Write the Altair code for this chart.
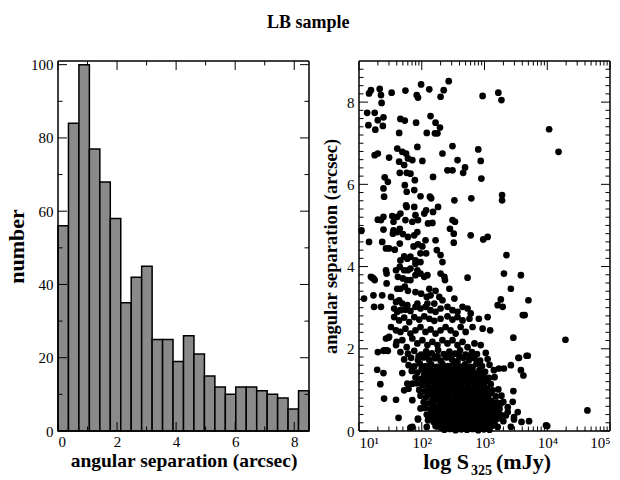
import altair as alt
import numpy as np
import pandas as pd

FONT = "Liberation Serif"
W, H = 251, 370

# ---------------- data ----------------
# histogram: 24 equal bins covering 0 .. 8.5 arcsec
hist_counts = [56, 84, 100, 77, 68, 58, 35, 42, 45, 25, 25, 19,
               26, 21, 15, 12, 10, 12, 12, 11, 10, 9, 6, 11]
hist_range = [0.0, 8.5]

# scatter: (log10 S325 [mJy], angular separation [arcsec])
pts_top = [(1.16, 8.21), (1.19, 8.29), (1.33, 8.32), (1.35, 8.17), (1.36, 7.98), (1.52, 8.23),
           (1.74, 8.28), (1.92, 8.17), (1.94, 8.11), (1.99, 8.43), (2.12, 8.31), (2.30, 8.13),
           (2.35, 8.29), (2.43, 8.51), (2.97, 8.15), (3.22, 8.23), (3.27, 8.05),
           (1.13, 7.74), (1.15, 7.44), (1.25, 7.74), (1.26, 7.33), (1.30, 7.56), (1.39, 7.63),
           (1.38, 7.42), (1.64, 7.25), (1.66, 7.59), (1.73, 7.55), (1.91, 7.50), (2.08, 7.25),
           (2.14, 7.66), (2.22, 7.50), (2.21, 7.24), (2.29, 7.38), (2.25, 7.24), (4.03, 7.34),
           (4.18, 6.79)]
pts_6 = [(1.25, 6.71), (1.30, 6.75), (1.48, 6.65), (1.61, 6.87), (1.69, 6.79), (1.75, 6.75),
         (1.78, 6.63), (1.64, 6.55), (1.72, 6.47), (1.85, 6.59), (1.82, 6.26), (1.93, 6.91),
         (2.01, 6.57), (1.65, 6.28), (1.76, 6.28), (1.89, 6.10), (2.18, 6.18), (2.33, 6.75),
         (2.49, 6.93), (2.57, 6.59), (2.49, 6.34), (2.41, 6.34), (2.69, 6.41), (2.66, 6.28),
         (2.90, 6.85), (2.94, 6.57), (2.95, 6.14), (1.41, 6.17), (1.46, 6.06), (1.73, 5.98)]
pts_5 = [(1.39, 5.90), (1.40, 5.70), (1.39, 5.21), (1.30, 5.14), (1.35, 5.13), (1.53, 5.23),
         (1.55, 5.09), (1.61, 5.21), (1.66, 5.29), (1.76, 5.82), (1.88, 5.86), (1.75, 5.49),
         (1.76, 5.45), (1.88, 5.45), (1.90, 5.25), (1.98, 5.71), (2.04, 5.29), (2.07, 5.37),
         (2.13, 5.70), (2.15, 5.66), (2.26, 5.45), (2.17, 5.06), (2.10, 5.05), (2.18, 5.33),
         (2.52, 5.61), (2.49, 5.13), (2.53, 5.09), (2.79, 5.66), (3.28, 5.74), (3.28, 5.61),
         (1.74, 5.13), (1.85, 5.09), (1.94, 5.13)]
pts_4 = [(1.04, 4.88), (1.16, 4.60), (1.37, 4.60), (1.43, 4.44), (1.48, 4.44), (1.57, 4.41),
         (1.61, 4.84), (1.55, 4.88), (1.39, 4.90), (1.54, 4.80), (1.65, 4.92), (1.70, 4.79),
         (1.78, 4.72), (1.88, 4.76), (1.93, 4.84), (1.87, 4.49), (1.94, 4.54), (2.01, 4.49),
         (2.06, 4.64), (2.07, 4.32), (1.98, 4.32), (2.22, 4.64), (2.24, 4.40), (2.30, 4.28),
         (2.33, 4.11), (1.82, 4.24), (1.77, 4.19), (1.72, 4.25), (1.66, 4.15), (1.90, 4.15),
         (1.98, 4.11), (2.45, 4.92), (2.51, 4.80), (2.51, 4.58), (2.78, 4.76), (2.98, 4.66),
         (3.05, 4.72), (3.35, 4.28), (1.65, 4.56)]
pts_3 = [(1.19, 3.75), (1.21, 3.73), (1.23, 3.71), (1.25, 3.67), (1.08, 3.22), (1.23, 3.30),
         (1.37, 3.30), (1.43, 3.91), (1.44, 3.83), (1.59, 3.91), (1.65, 3.99), (1.72, 3.91),
         (1.78, 3.91), (1.82, 3.95), (1.90, 4.07), (1.93, 3.91), (1.62, 3.75), (1.70, 3.71),
         (1.76, 3.67), (1.82, 3.67), (1.90, 3.79), (1.98, 3.83), (2.04, 3.75), (2.09, 3.79),
         (1.44, 3.59), (1.61, 3.46), (1.66, 3.46), (1.73, 3.51), (1.78, 3.41), (1.51, 3.26),
         (1.59, 3.14), (1.64, 3.18), (1.90, 3.38), (1.99, 3.34), (2.08, 3.26), (2.12, 3.46),
         (2.14, 3.30), (2.22, 3.41), (2.28, 3.26), (2.33, 3.18), (2.30, 3.83), (2.36, 3.75),
         (2.37, 3.67), (2.44, 3.46), (2.52, 3.22), (2.73, 3.73), (3.31, 3.83), (3.58, 3.79),
         (3.42, 3.46), (3.70, 3.18), (3.26, 3.20), (3.21, 3.06), (2.09, 3.10), (2.20, 3.10),
         (1.93, 3.10), (1.77, 3.06), (1.69, 3.10), (1.35, 3.02), (1.24, 3.02)]
pts_2 = [(1.56, 2.98), (1.61, 2.90), (1.66, 2.94), (1.74, 2.95), (1.82, 2.92), (1.90, 3.02),
         (1.98, 2.98), (2.06, 3.02), (2.14, 2.94), (2.22, 2.90), (2.30, 2.98), (2.41, 3.02),
         (2.49, 2.94), (2.57, 2.90), (2.65, 3.02), (2.73, 2.98), (2.78, 2.86), (1.56, 2.77),
         (1.64, 2.69), (1.72, 2.76), (1.80, 2.65), (1.88, 2.77), (1.96, 2.71), (2.04, 2.79),
         (2.12, 2.73), (2.20, 2.68), (2.30, 2.73), (2.41, 2.79), (2.49, 2.71), (2.57, 2.77),
         (2.65, 2.69), (2.76, 2.73), (1.51, 2.53), (1.59, 2.45), (1.66, 2.41), (1.74, 2.49),
         (1.82, 2.37), (1.90, 2.45), (1.98, 2.53), (2.06, 2.41), (2.14, 2.47), (2.22, 2.37),
         (2.30, 2.45), (2.38, 2.53), (2.46, 2.45), (2.54, 2.37), (2.62, 2.53), (2.70, 2.41),
         (2.81, 2.53), (2.91, 2.73), (3.05, 2.77), (3.09, 2.45), (2.97, 2.49), (1.43, 2.25),
         (1.48, 2.29), (1.44, 1.96), (1.60, 2.17), (1.69, 2.21), (1.76, 2.04), (1.85, 2.25),
         (1.93, 2.13), (2.01, 2.21), (2.09, 2.09), (2.17, 2.17), (2.25, 2.09), (2.33, 2.21),
         (2.41, 2.13), (2.49, 2.21), (2.57, 2.09), (2.65, 2.17), (2.73, 2.04), (2.84, 2.13),
         (2.94, 2.09), (3.02, 1.90), (3.46, 2.27), (3.61, 2.82), (3.64, 2.82), (3.29, 3.02),
         (4.29, 2.22), (1.30, 1.92), (1.40, 1.96)]
pts_low = [(1.29, 1.49), (1.39, 1.41), (1.34, 1.14), (1.40, 0.79), (1.59, 0.76), (1.63, 0.32),
           (1.82, 0.08), (1.94, 0.30), (2.08, 0.10), (2.25, 0.11), (1.69, 1.41), (1.77, 1.15),
           (1.72, 0.99), (3.55, 1.78), (3.69, 1.83), (3.58, 1.48), (3.62, 1.35), (3.42, 1.60),
           (3.31, 1.52), (3.23, 1.52), (3.15, 1.48), (3.53, 0.46), (3.71, 0.24), (3.98, 0.14),
           (4.00, 0.12), (4.64, 0.50), (3.26, 0.67), (3.37, 0.58), (3.47, 0.34), (1.47, 2.27),
           (1.39, 1.95), (1.46, 1.95), (1.59, 2.09), (1.79, 1.60), (1.85, 1.15), (1.79, 1.03),
           (1.85, 0.75), (1.98, 0.55), (1.94, 0.28), (1.85, 0.10), (2.11, 0.33), (2.26, 0.14),
           (3.54, 1.78), (3.67, 1.83), (3.46, 0.97), (3.45, 0.71), (3.59, 0.22), (3.47, 0.28),
           (3.42, 0.10), (3.34, 0.38), (3.37, 0.46)]
pts_blob = [
    (1.66, 1.92), (1.78, 1.88), (1.88, 1.95), (1.99, 1.86), (2.07, 1.94), (2.16, 1.89), (2.26, 1.97),
    (2.35, 1.87), (2.44, 1.93), (2.53, 1.88), (2.61, 1.96), (2.70, 1.86), (2.80, 1.92), (2.88, 1.87),
    (1.72, 1.74), (1.83, 1.78), (1.94, 1.72), (2.03, 1.79), (2.12, 1.73), (2.21, 1.77), (2.30, 1.71),
    (2.39, 1.79), (2.48, 1.74), (2.57, 1.70), (2.66, 1.78), (2.75, 1.72), (2.84, 1.77), (2.93, 1.71),
    (3.05, 1.75), (1.88, 1.57), (1.97, 1.64), (2.06, 1.58), (2.15, 1.62), (2.24, 1.56), (2.33, 1.63),
    (2.42, 1.58), (2.51, 1.65), (2.60, 1.57), (2.69, 1.62), (2.78, 1.56), (2.87, 1.63), (2.96, 1.58),
    (3.08, 1.61), (1.84, 1.46), (1.93, 1.42), (2.02, 1.49), (2.11, 1.43), (2.20, 1.47), (2.29, 1.41),
    (2.38, 1.48), (2.47, 1.43), (2.56, 1.49), (2.65, 1.42), (2.74, 1.47), (2.83, 1.41), (2.92, 1.48),
    (3.01, 1.44), (1.90, 1.30), (1.99, 1.27), (2.08, 1.34), (2.17, 1.28), (2.26, 1.32), (2.35, 1.26),
    (2.44, 1.33), (2.53, 1.28), (2.62, 1.34), (2.71, 1.27), (2.80, 1.32), (2.89, 1.26), (2.98, 1.33),
    (3.07, 1.29), (3.16, 1.31), (1.92, 1.16), (2.01, 1.12), (2.10, 1.19), (2.19, 1.13), (2.28, 1.17),
    (2.37, 1.11), (2.46, 1.18), (2.55, 1.13), (2.64, 1.19), (2.73, 1.12), (2.82, 1.17), (2.91, 1.11),
    (3.00, 1.18), (3.10, 1.14), (1.96, 1.00), (2.05, 0.97), (2.14, 1.04), (2.23, 0.98), (2.32, 1.02),
    (2.41, 0.96), (2.50, 1.03), (2.59, 0.98), (2.68, 1.04), (2.77, 0.97), (2.86, 1.02), (2.95, 0.96),
    (3.04, 1.03), (3.13, 0.99), (3.22, 1.01), (1.98, 0.86), (2.07, 0.82), (2.16, 0.89), (2.25, 0.83),
    (2.34, 0.87), (2.43, 0.81), (2.52, 0.88), (2.61, 0.83), (2.70, 0.89), (2.79, 0.82), (2.88, 0.87),
    (2.97, 0.81), (3.06, 0.88), (3.18, 0.84), (3.27, 0.86), (2.03, 0.70), (2.12, 0.67), (2.21, 0.74),
    (2.30, 0.68), (2.39, 0.72), (2.48, 0.66), (2.57, 0.73), (2.66, 0.68), (2.75, 0.74), (2.84, 0.67),
    (2.93, 0.72), (3.02, 0.66), (3.11, 0.73), (3.20, 0.69), (3.30, 0.71), (2.05, 0.56), (2.14, 0.52),
    (2.23, 0.59), (2.32, 0.53), (2.41, 0.57), (2.50, 0.51), (2.59, 0.58), (2.68, 0.53), (2.77, 0.59),
    (2.86, 0.52), (2.95, 0.57), (3.04, 0.51), (3.13, 0.58), (3.24, 0.54), (2.08, 0.40), (2.17, 0.37),
    (2.26, 0.44), (2.35, 0.38), (2.44, 0.42), (2.53, 0.36), (2.62, 0.43), (2.71, 0.38), (2.80, 0.44),
    (2.89, 0.37), (2.98, 0.42), (3.07, 0.36), (3.16, 0.43), (3.26, 0.39), (2.10, 0.26), (2.19, 0.22),
    (2.28, 0.29), (2.37, 0.23), (2.46, 0.27), (2.55, 0.21), (2.64, 0.28), (2.73, 0.23), (2.82, 0.29),
    (2.91, 0.22), (3.00, 0.27), (3.09, 0.21), (3.18, 0.28), (3.30, 0.24), (2.22, 0.12), (2.31, 0.08),
    (2.40, 0.14), (2.49, 0.09), (2.58, 0.13), (2.67, 0.07), (2.76, 0.12), (2.85, 0.08), (2.94, 0.14),
    (3.03, 0.09), (3.12, 0.13), (3.21, 0.10)]
pts_blob_fill = [
    (2.00, 1.52), (2.09, 1.53), (2.18, 1.51), (2.27, 1.53), (2.36, 1.52), (2.45, 1.51), (2.54, 1.53),
    (2.63, 1.52), (2.72, 1.51), (2.81, 1.53), (1.95, 1.82), (2.08, 1.83), (2.25, 1.82), (2.43, 1.84),
    (2.60, 1.82), (2.77, 1.83),
    (2.04, 1.37), (2.13, 1.36), (2.22, 1.38), (2.31, 1.35), (2.40, 1.39), (2.49, 1.36), (2.58, 1.38),
    (2.67, 1.35), (2.76, 1.39), (2.85, 1.36), (2.94, 1.38),
    (2.05, 1.22), (2.14, 1.24), (2.23, 1.21), (2.32, 1.25), (2.41, 1.22), (2.50, 1.24), (2.59, 1.21),
    (2.68, 1.25), (2.77, 1.22), (2.86, 1.24), (2.95, 1.21), (3.04, 1.23),
    (2.10, 1.07), (2.19, 1.09), (2.28, 1.06), (2.37, 1.08), (2.46, 1.05), (2.55, 1.09), (2.64, 1.06),
    (2.73, 1.08), (2.82, 1.05), (2.91, 1.09), (3.00, 1.06),
    (2.11, 0.93), (2.20, 0.91), (2.29, 0.94), (2.38, 0.92), (2.47, 0.95), (2.56, 0.91), (2.65, 0.94),
    (2.74, 0.92), (2.83, 0.95), (2.92, 0.91), (3.01, 0.94), (3.10, 0.92),
    (2.17, 0.77), (2.26, 0.79), (2.35, 0.76), (2.44, 0.78), (2.53, 0.75), (2.62, 0.79), (2.71, 0.76),
    (2.80, 0.78), (2.89, 0.75), (2.98, 0.79), (3.07, 0.76),
    (2.18, 0.62), (2.27, 0.60), (2.36, 0.63), (2.45, 0.61), (2.54, 0.64), (2.63, 0.60), (2.72, 0.63),
    (2.81, 0.61), (2.90, 0.64), (2.99, 0.60), (3.08, 0.63), (3.17, 0.61),
    (2.19, 0.47), (2.28, 0.49), (2.37, 0.46), (2.46, 0.48), (2.55, 0.45), (2.64, 0.49), (2.73, 0.46),
    (2.82, 0.48), (2.91, 0.45), (3.00, 0.49), (3.09, 0.46), (3.20, 0.47),
    (2.22, 0.32), (2.31, 0.30), (2.40, 0.33), (2.49, 0.31), (2.58, 0.34), (2.67, 0.30), (2.76, 0.33),
    (2.85, 0.31), (2.94, 0.34), (3.03, 0.30), (3.12, 0.33), (3.22, 0.31),
    (2.26, 0.17), (2.35, 0.19), (2.44, 0.16), (2.53, 0.18), (2.62, 0.15), (2.71, 0.19), (2.80, 0.16),
    (2.89, 0.18), (2.98, 0.15), (3.07, 0.19), (3.16, 0.17),
    (2.36, 0.03), (2.45, 0.05), (2.54, 0.02), (2.63, 0.04), (2.72, 0.03), (2.81, 0.05), (2.90, 0.02),
    (2.99, 0.04), (3.08, 0.03)]

scatter_points = pts_top + pts_6 + pts_5 + pts_4 + pts_3 + pts_2 + pts_low + pts_blob + pts_blob_fill

# axis tick values (labels) and minor tick values
hist_x_labels = [0, 2, 4, 6, 8]
hist_y_labels = [0, 20, 40, 60, 80, 100]
hist_minor_x = [1, 3, 5, 7]
hist_minor_y = [10, 30, 50, 70, 90]
sc_x_labels = [10, 100, 1000, 10000, 100000]
sc_y_labels = [0, 2, 4, 6, 8]
sc_minor_x = [k * 10 ** d for d in range(1, 5) for k in range(2, 10)]
sc_minor_y = [round(0.2 * i, 1) for i in range(1, 45) if i % 10 != 0]

# ---------------- frames ----------------
HX_DOM, HY_DOM = [0.0, 8.5], [0.0, 101.0]
SX_DOM, SY_DOM = [10.0, 100000.0], [0.0, 9.0]
MAJ, MIN = 9, 4.5

edges = np.linspace(hist_range[0], hist_range[1], len(hist_counts) + 1)
hist_df = pd.DataFrame({"x0": edges[:-1], "x1": edges[1:], "n": hist_counts,
                        "base": [0] * len(hist_counts)})
sc_df = pd.DataFrame({"S": [10 ** p[0] for p in scatter_points],
                      "sep": [p[1] for p in scatter_points]})


def tick_frame(xdom, ydom, xmaj, xmin, ymaj, ymin, xlog):
    xspan_lin = xdom[1] - xdom[0]
    yspan = ydom[1] - ydom[0]

    def xin(edge_val, px, sign):
        if xlog:
            span = np.log10(xdom[1]) - np.log10(xdom[0])
            return float(edge_val * 10 ** (sign * px * span / W))
        return float(edge_val + sign * px * xspan_lin / W)

    rows = []
    for vals, L in ((xmaj, MAJ), (xmin, MIN)):
        for v in vals:
            rows.append((float(v), float(v), ydom[0], ydom[0] + L * yspan / H))
            rows.append((float(v), float(v), ydom[1] - L * yspan / H, ydom[1]))
    for vals, L in ((ymaj, MAJ), (ymin, MIN)):
        for v in vals:
            rows.append((xdom[0], xin(xdom[0], L, 1), float(v), float(v)))
            rows.append((xin(xdom[1], L, -1), xdom[1], float(v), float(v)))
    ticks = pd.DataFrame(rows, columns=["a", "b", "c", "d"])
    frame = pd.DataFrame([(xdom[0], xdom[1], ydom[0], ydom[0]), (xdom[0], xdom[1], ydom[1], ydom[1]),
                          (xdom[0], xdom[0], ydom[0], ydom[1]), (xdom[1], xdom[1], ydom[0], ydom[1])],
                         columns=["a", "b", "c", "d"])
    return ticks, frame


label_common = dict(grid=False, ticks=False, domain=False, labelFont=FONT, labelFontSize=15,
                    labelColor="black", titleFont=FONT, titleFontWeight="bold", titleColor="black")

hx = alt.Scale(domain=HX_DOM, nice=False, zero=False)
hy = alt.Scale(domain=HY_DOM, nice=False, zero=True)
sx = alt.Scale(type="log", domain=SX_DOM, nice=False)
sy = alt.Scale(domain=SY_DOM, nice=False, zero=True)


def rule_layers(ticks, frame, xs, ys):
    t = alt.Chart(ticks).mark_rule(color="black", strokeWidth=1).encode(
        x=alt.X("a:Q", scale=xs, axis=None), x2="b:Q",
        y=alt.Y("c:Q", scale=ys, axis=None), y2="d:Q")
    f = alt.Chart(frame).mark_rule(color="black", strokeWidth=1.5).encode(
        x=alt.X("a:Q", scale=xs, axis=None), x2="b:Q",
        y=alt.Y("c:Q", scale=ys, axis=None), y2="d:Q")
    return [t, f]


# ---------------- left: histogram ----------------
hist_xaxis = alt.Axis(values=hist_x_labels, title="angular separation (arcsec)", titleFontSize=19.5,
                      labelPadding=3, titlePadding=2, **label_common)
hist_yaxis = alt.Axis(values=hist_y_labels, title="number", titleFontSize=22,
                      labelPadding=5, titlePadding=2, **label_common)

bars = alt.Chart(hist_df).mark_rect(fill="#8a8a8a", stroke="black", strokeWidth=1.5).encode(
    x=alt.X("x0:Q", scale=hx, axis=hist_xaxis),
    x2="x1:Q",
    y=alt.Y("n:Q", scale=hy, axis=hist_yaxis),
    y2="base:Q",
)
h_ticks, h_frame = tick_frame(HX_DOM, HY_DOM, hist_x_labels, hist_minor_x, hist_y_labels, hist_minor_y, False)
left = alt.layer(bars, *rule_layers(h_ticks, h_frame, hx, hy)).resolve_axis(
    x="independent", y="independent").properties(width=W, height=H)

# ---------------- right: scatter ----------------
sc_xaxis = alt.Axis(values=sc_x_labels, title=None, labelPadding=4,
                    labelExpr="'10' + ['⁰','¹','²','³','⁴','⁵'][round(log(datum.value)/LN10)]",
                    **label_common)
sc_yaxis = alt.Axis(values=sc_y_labels, title="angular separation (arcsec)", titleFontSize=18.5,
                    labelPadding=5, titlePadding=6, **label_common)

points = alt.Chart(sc_df).mark_circle(size=45, color="black", opacity=1).encode(
    x=alt.X("S:Q", scale=sx, axis=sc_xaxis),
    y=alt.Y("sep:Q", scale=sy, axis=sc_yaxis),
)
s_ticks, s_frame = tick_frame(SX_DOM, SY_DOM, sc_x_labels, sc_minor_x, sc_y_labels, sc_minor_y, True)

title_parts = pd.DataFrame({"t": ["log S", "325", "(mJy)"]})
t1 = alt.Chart(title_parts.iloc[[0]]).mark_text(font=FONT, fontSize=22, fontWeight="bold", align="right",
                                                baseline="alphabetic").encode(
    x=alt.value(110), y=alt.value(H + 38), text="t:N")
t2 = alt.Chart(title_parts.iloc[[1]]).mark_text(font=FONT, fontSize=14, fontWeight="bold", align="left",
                                                baseline="alphabetic").encode(
    x=alt.value(112), y=alt.value(H + 44), text="t:N")
t3 = alt.Chart(title_parts.iloc[[2]]).mark_text(font=FONT, fontSize=22, fontWeight="bold", align="left",
                                                baseline="alphabetic").encode(
    x=alt.value(137), y=alt.value(H + 38), text="t:N")

right = alt.layer(points, *rule_layers(s_ticks, s_frame, sx, sy), t1, t2, t3).resolve_axis(
    x="independent", y="independent").properties(width=W, height=H)

chart = alt.hconcat(left, right, spacing=50, bounds="flush").properties(
    title=alt.TitleParams("LB sample", font=FONT, fontSize=18, fontWeight="bold", color="black",
                          anchor="middle", baseline="alphabetic", offset=12),
    autosize=alt.AutoSizeParams(type="none"),
    padding={"left": 58, "top": 61, "right": 562, "bottom": 419},
).configure_view(strokeWidth=0)

chart.save("out.html", embed_options={"renderer": "svg", "actions": False})
